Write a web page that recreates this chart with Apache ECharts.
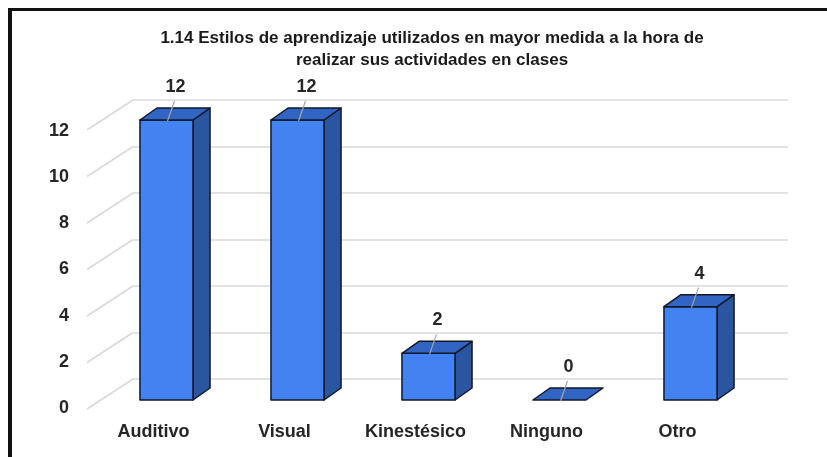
<!DOCTYPE html>
<html>
<head>
<meta charset="utf-8">
<script src="https://cdn.jsdelivr.net/npm/echarts@6/dist/echarts.min.js"></script>
<style>
  html, body { margin: 0; padding: 0; background: #fff; }
  #chart { width: 827px; height: 457px; }
</style>
</head>
<body>
<div id="chart"></div>
<script>
// datos
var categorias = ['Auditivo', 'Visual', 'Kinestésico', 'Ninguno', 'Otro'];
var valores = [12, 12, 2, 0, 4];
var ticksY = [0, 2, 4, 6, 8, 10, 12];

var fuente = '"Liberation Sans", Arial, sans-serif';
var colorTexto = '#262626';

// barra 3D: cara frontal, lateral y superior
function dibujarBarra(params, api) {
    var i = api.value(0);
    var base = api.coord([i, 0]);
    var tope = api.coord([i, api.value(1)]);
    var w = api.size([1, 0])[0] * 0.405;
    var dx = 17, dy = -12;
    var x0 = base[0] - w / 2, x1 = base[0] + w / 2;
    var yb = base[1], yt = tope[1];
    var borde = { stroke: '#111827', lineWidth: 1.5, lineJoin: 'round' };
    var hijos = [];
    if (yb - yt > 0.5) {
        hijos.push({
            type: 'polygon',
            shape: { points: [[x1, yb], [x1 + dx, yb + dy], [x1 + dx, yt + dy], [x1, yt]] },
            style: Object.assign({ fill: '#2a55a0' }, borde)
        });
        hijos.push({
            type: 'rect',
            shape: { x: x0, y: yt, width: w, height: yb - yt },
            style: Object.assign({ fill: '#4283f1' }, borde)
        });
    }
    hijos.push({
        type: 'polygon',
        shape: { points: [[x0, yt], [x1, yt], [x1 + dx, yt + dy], [x0 + dx, yt + dy]] },
        style: Object.assign({ fill: '#3264c4' }, borde)
    });
    // linea guia de la etiqueta
    hijos.push({
        type: 'line',
        shape: { x1: base[0] + 8, y1: yt - 19, x2: base[0] + 1, y2: yt + 1 },
        style: { stroke: '#a6a6a6', lineWidth: 1.2 }
    });
    hijos.push({
        type: 'text',
        style: {
            text: String(api.value(1)),
            x: base[0] + 9, y: yt - 33,
            align: 'center', verticalAlign: 'middle',
            font: 'bold 18px ' + fuente,
            fill: colorTexto
        }
    });
    return { type: 'group', children: hijos };
}

// lineas diagonales de la pared lateral
function dibujarDiagonal(params, api) {
    var p = api.coord([0, api.value(1)]);
    return {
        type: 'line',
        shape: { x1: p[0], y1: p[1], x2: p[0] - 46, y2: p[1] + 30 },
        style: { stroke: '#d9d9d9', lineWidth: 1.5 }
    };
}

var chart = echarts.init(document.getElementById('chart'));
var options = {
    backgroundColor: '#fff',
    animation: false,
    title: {
        text: '1.14 Estilos de aprendizaje utilizados en mayor medida a la hora de\nrealizar sus actividades en clases',
        left: 427,
        textAlign: 'center',
        top: 22,
        textStyle: {
            fontFamily: fuente,
            fontSize: 17,
            fontWeight: 'bold',
            lineHeight: 22,
            color: '#1a1a1a'
        }
    },
    grid: [
        { left: 101, right: 71, top: 120, bottom: 57 },   // plano frontal
        { left: 133, right: 39, top: 100, bottom: 78 },   // pared del fondo
        { left: 88, right: 84, top: 131, bottom: 49 }     // etiquetas
    ],
    xAxis: [
        { gridIndex: 0, type: 'category', data: categorias, show: false },
        { gridIndex: 1, type: 'value', min: 0, max: 1, show: false },
        {
            gridIndex: 2, type: 'category', data: categorias,
            axisLine: { show: false },
            axisTick: { show: false },
            axisLabel: {
                interval: 0,
                margin: 15,
                fontFamily: fuente, fontSize: 18, fontWeight: 'bold', color: colorTexto
            }
        }
    ],
    yAxis: [
        { gridIndex: 0, type: 'value', min: 0, max: 12, show: false },
        {
            gridIndex: 1, type: 'value', min: 0, max: 12, interval: 2,
            axisLine: { show: false },
            axisTick: { show: false },
            axisLabel: { show: false },
            splitLine: { lineStyle: { color: '#d9d9d9', width: 1.5 } }
        },
        {
            gridIndex: 2, type: 'value', min: 0, max: 12, interval: 2,
            axisLine: { show: false },
            axisTick: { show: false },
            splitLine: { show: false },
            axisLabel: {
                margin: 19,
                fontFamily: fuente, fontSize: 18, fontWeight: 'bold', color: colorTexto
            }
        }
    ],
    graphic: [
        { type: 'line', shape: { x1: 10, y1: 8, x2: 10, y2: 457 }, style: { stroke: '#111', lineWidth: 4 } },
        { type: 'line', shape: { x1: 8, y1: 9.5, x2: 827, y2: 9.5 }, style: { stroke: '#111', lineWidth: 3 } }
    ],
    series: [
        {
            type: 'custom',
            xAxisIndex: 1, yAxisIndex: 1,
            renderItem: dibujarDiagonal,
            data: ticksY.map(function (v) { return [0, v]; }),
            z: 1
        },
        {
            type: 'custom',
            xAxisIndex: 0, yAxisIndex: 0,
            renderItem: dibujarBarra,
            data: valores.map(function (v, i) { return [i, v]; }),
            z: 5
        }
    ]
};
chart.setOption(options);

window.onresize = function () {
    chart.resize();
};
</script>
</body>
</html>
